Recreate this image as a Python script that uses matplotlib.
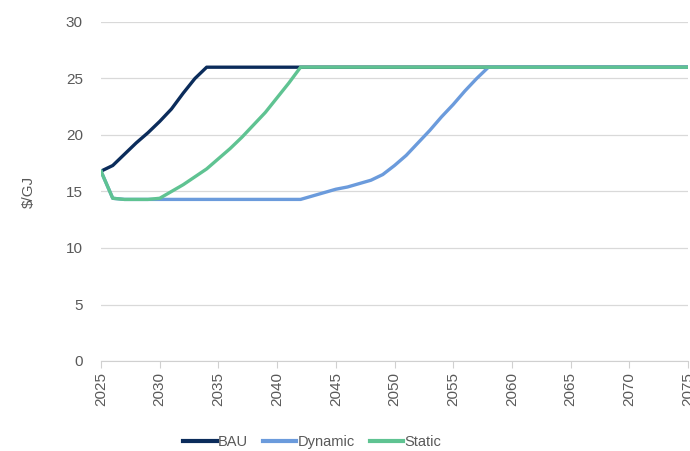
import matplotlib
matplotlib.use("Agg")
import matplotlib.pyplot as plt
from matplotlib import font_manager

years = list(range(2025, 2076))

bau = [16.8, 17.3, 18.3, 19.3, 20.2, 21.2, 22.3, 23.7, 25.0, 26.0,
       26.0, 26.0, 26.0, 26.0, 26.0, 26.0, 26.0, 26.0, 26.0, 26.0,
       26.0, 26.0, 26.0, 26.0, 26.0, 26.0, 26.0, 26.0, 26.0, 26.0,
       26.0, 26.0, 26.0, 26.0, 26.0, 26.0, 26.0, 26.0, 26.0, 26.0,
       26.0, 26.0, 26.0, 26.0, 26.0, 26.0, 26.0, 26.0, 26.0, 26.0,
       26.0]

dynamic = [16.8, 14.4, 14.3, 14.3, 14.3, 14.3, 14.3, 14.3, 14.3, 14.3,
           14.3, 14.3, 14.3, 14.3, 14.3, 14.3, 14.3, 14.3, 14.6, 14.9,
           15.2, 15.4, 15.7, 16.0, 16.5, 17.3, 18.2, 19.3, 20.4, 21.6,
           22.7, 23.9, 25.0, 26.0, 26.0, 26.0, 26.0, 26.0, 26.0, 26.0,
           26.0, 26.0, 26.0, 26.0, 26.0, 26.0, 26.0, 26.0, 26.0, 26.0,
           26.0]

static = [16.8, 14.4, 14.3, 14.3, 14.3, 14.4, 15.0, 15.6, 16.3, 17.0,
          17.9, 18.8, 19.8, 20.9, 22.0, 23.3, 24.6, 26.0, 26.0, 26.0,
          26.0, 26.0, 26.0, 26.0, 26.0, 26.0, 26.0, 26.0, 26.0, 26.0,
          26.0, 26.0, 26.0, 26.0, 26.0, 26.0, 26.0, 26.0, 26.0, 26.0,
          26.0, 26.0, 26.0, 26.0, 26.0, 26.0, 26.0, 26.0, 26.0, 26.0,
          26.0]

x_ticks = list(range(2025, 2076, 5))
y_ticks = [0, 5, 10, 15, 20, 25, 30]
series_names = ["BAU", "Dynamic", "Static"]
colors = ["#0b2c5b", "#6b9bdc", "#5fc392"]

plt.rcParams["font.family"] = ["Liberation Sans", "DejaVu Sans"]
names = {f.name for f in font_manager.fontManager.ttflist}
legend_family = "Liberation Sans Narrow" if "Liberation Sans Narrow" in names else "Liberation Sans"

fig = plt.figure(figsize=(6.9, 4.51), dpi=100)
ax = fig.add_axes([101 / 690, 90 / 451, 587 / 690, 339 / 451])

for vals, name, c in zip([bau, dynamic, static], series_names, colors):
    ax.plot(years, vals, color=c, lw=2.4, label=name, solid_joinstyle="round")

ax.set_xlim(2025, 2075)
ax.set_ylim(0, 30)
ax.set_xticks(x_ticks)
ax.set_xticklabels([str(t) for t in x_ticks], rotation=90, fontsize=11, color="#595959")
ax.set_yticks(y_ticks)
ax.set_yticklabels([str(t) for t in y_ticks], fontsize=11, color="#595959")
ax.grid(axis="y", color="#d9d9d9", lw=0.9)
ax.set_axisbelow(True)
for s in ["top", "right", "left"]:
    ax.spines[s].set_visible(False)
ax.spines["bottom"].set_color("#d0d0d0")
ax.tick_params(axis="y", length=0, pad=13)
ax.tick_params(axis="x", length=5, color="#d0d0d0", pad=3)
ax.set_ylabel("$/GJ", fontsize=11, color="#595959", labelpad=22)

leg = ax.legend(loc="center", bbox_to_anchor=(0.36, -0.24), ncol=3, frameon=False,
                handlelength=2.3, handletextpad=0.1, columnspacing=1.0,
                prop={"family": legend_family, "size": 10.5})
for t in leg.get_texts():
    t.set_color("#595959")
for h in leg.get_lines():
    h.set_linewidth(3)

fig.savefig("out.png", dpi=100)
